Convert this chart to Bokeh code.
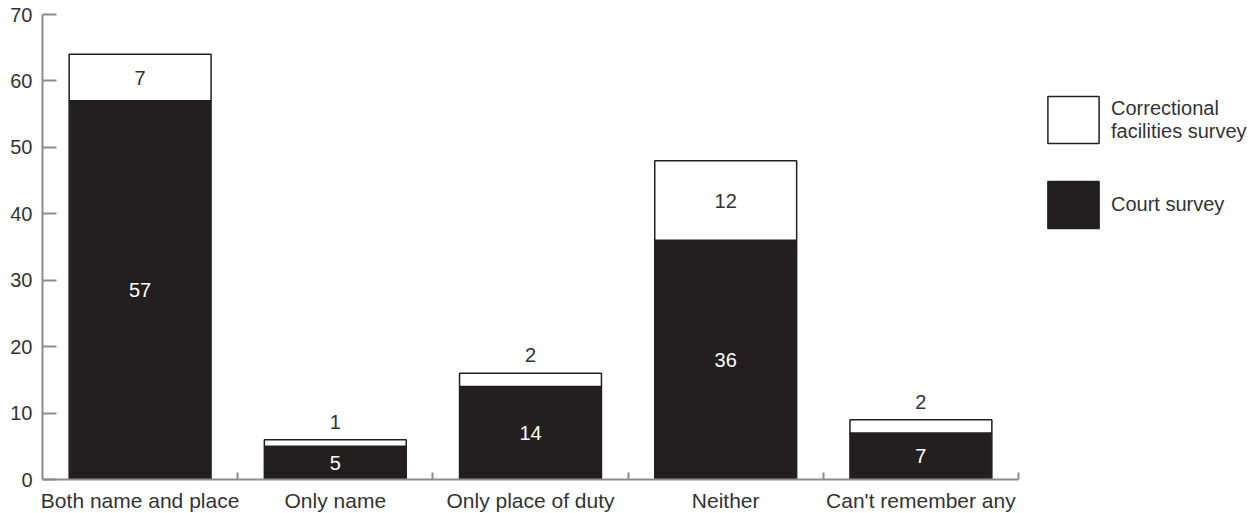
from bokeh.plotting import figure
from bokeh.models import (ColumnDataSource, Range1d, FixedTicker, Legend, LegendItem)
from bokeh.core.properties import value
from bokeh.embed import file_html
from bokeh.resources import INLINE

categories = ["Both name and place", "Only name", "Only place of duty", "Neither", "Can't remember any"]
court_survey = [57, 5, 14, 36, 7]
correctional_survey = [7, 1, 2, 12, 2]
y_ticks = [0, 10, 20, 30, 40, 50, 60, 70]

FONT = "Liberation Sans"
DARK = "#231f20"
TEXT = "#333333"
AXIS = "#8c8c8c"

n = len(categories)
centers = [i + 0.5 for i in range(n)]

# chart area 976px for the categories; extra room on the right holds the legend
FRAME_W = 1213
AXIS_W = 976

p = figure(frame_width=FRAME_W, frame_height=465, output_backend="svg", toolbar_location=None,
           x_range=Range1d(0, n * FRAME_W / AXIS_W), y_range=Range1d(0, 70),
           min_border_left=42, min_border_right=0, min_border_top=14, min_border_bottom=34)
p.outline_line_color = None
p.grid.visible = False
p.background_fill_color = "white"
p.border_fill_color = "white"

src = ColumnDataSource(dict(x=centers, court=court_survey, corr=correctional_survey))
rs = p.vbar_stack(["court", "corr"], x="x", width=0.727, source=src,
                  fill_color=[DARK, "white"], line_color=DARK, line_width=1.5)
r_court, r_corr = rs

# labels
court_lbl = ColumnDataSource(dict(x=centers, y=[v / 2 for v in court_survey],
                                  t=[str(v) for v in court_survey]))
p.text(x="x", y="y", text="t", source=court_lbl, text_color="white",
       text_font=value(FONT), text_font_size="20px", text_align="center",
       text_baseline="middle")

in_x, in_y, in_t, out_x, out_y, out_t = [], [], [], [], [], []
for c, a, b in zip(centers, court_survey, correctional_survey):
    if b >= 5:
        in_x.append(c); in_y.append(a + b / 2); in_t.append(str(b))
    else:
        out_x.append(c); out_y.append(a + b); out_t.append(str(b))
p.text(x="x", y="y", text="t", source=ColumnDataSource(dict(x=in_x, y=in_y, t=in_t)),
       text_color=TEXT, text_font=value(FONT), text_font_size="20px",
       text_align="center", text_baseline="middle")
p.text(x="x", y="y", text="t", source=ColumnDataSource(dict(x=out_x, y=out_y, t=out_t)),
       text_color=TEXT, text_font=value(FONT), text_font_size="20px",
       text_align="center", text_baseline="middle", y_offset=-18)

# y axis
ya = p.yaxis[0]
ya.ticker = FixedTicker(ticks=y_ticks)
ya.major_tick_in = 14
ya.major_tick_out = 0
ya.minor_tick_in = 0
ya.minor_tick_out = 0
ya.axis_line_color = AXIS
ya.axis_line_width = 2
ya.major_tick_line_color = AXIS
ya.major_tick_line_width = 2
ya.major_label_text_font = FONT
ya.major_label_text_font_size = "20px"
ya.major_label_text_color = TEXT
ya.major_label_standoff = 10

# x axis
xa = p.xaxis[0]
xa.bounds = (0, n)
xa.ticker = FixedTicker(ticks=centers, minor_ticks=[i + 1 for i in range(n)])
xa.major_label_overrides = {c: lab for c, lab in zip(centers, categories)}
xa.major_tick_in = 0
xa.major_tick_out = 0
xa.minor_tick_in = 7
xa.minor_tick_out = 0
xa.minor_tick_line_color = AXIS
xa.minor_tick_line_width = 2
xa.axis_line_color = AXIS
xa.axis_line_width = 2
xa.major_label_text_font = FONT
xa.major_label_text_font_size = "21px"
xa.major_label_text_color = TEXT
xa.major_label_standoff = 9

legend = Legend(items=[LegendItem(label="Correctional\nfacilities survey", renderers=[r_corr]),
                       LegendItem(label="Court survey", renderers=[r_court])],
                location=(999, 245), glyph_width=64, glyph_height=59, spacing=26,
                label_standoff=6, label_text_font=FONT, label_text_font_size="20px",
                label_text_color=TEXT, label_text_line_height=0.95,
                border_line_color=None, background_fill_alpha=0,
                padding=0, margin=0)
p.add_layout(legend, "center")

open("out.html", "w").write(file_html(p, INLINE))
